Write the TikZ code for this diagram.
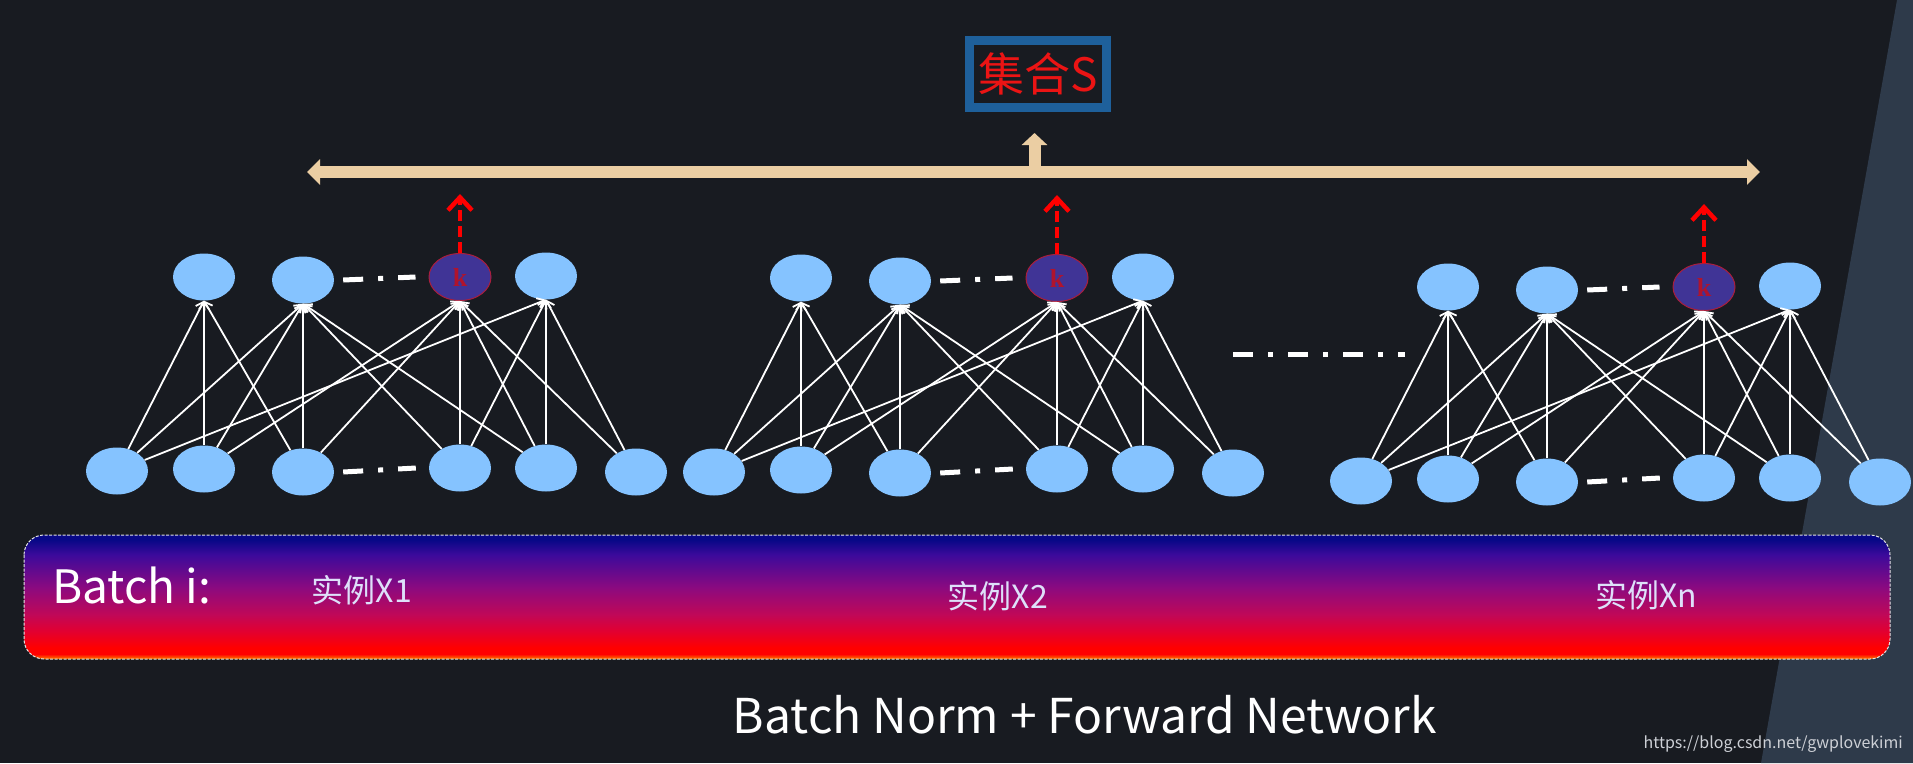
\documentclass[tikz,border=0pt]{standalone}
\usepackage{fontspec}
\setmainfont{Noto Sans CJK SC}
\newfontfamily\kfont{Liberation Serif}
\usetikzlibrary{arrows.meta,calc,positioning,shapes.geometric}

\newcommand\px[1]{\fontsize{#1pt}{#1pt}\selectfont}

\definecolor{bg}{RGB}{24,27,33}
\definecolor{panel}{RGB}{46,58,74}
\definecolor{nodeBlue}{RGB}{133,195,255}
\definecolor{kFill}{RGB}{64,52,150}
\definecolor{kLine}{RGB}{170,30,60}
\definecolor{kText}{RGB}{175,20,45}
\definecolor{setBlue}{RGB}{30,96,155}
\definecolor{setRed}{RGB}{235,20,20}
\definecolor{beige}{RGB}{235,206,163}
\definecolor{pickRed}{RGB}{255,0,0}
\definecolor{instText}{RGB}{222,224,250}
\definecolor{wmLight}{RGB}{205,208,214}
% gradient of the batch strip
\definecolor{gOrange}{RGB}{255,130,0}
\definecolor{gRed}{RGB}{255,0,0}
\definecolor{gCrimson}{RGB}{225,0,50}
\definecolor{gMagenta}{RGB}{192,8,88}
\definecolor{gPurple}{RGB}{138,10,128}
\definecolor{gViolet}{RGB}{60,10,155}
\definecolor{gNavy}{RGB}{8,8,135}
\pgfdeclareverticalshading{batchgrad}{100bp}{color(0bp)=(gOrange); color(25bp)=(gOrange);
 color(27bp)=(gRed); color(29.5bp)=(gRed); color(36.5bp)=(gCrimson); color(43bp)=(gMagenta);
 color(54bp)=(gPurple); color(67bp)=(gViolet); color(73bp)=(gNavy); color(100bp)=(gNavy)}

\begin{document}
\begin{tikzpicture}[x=1pt,y=-1pt,>=Latex,
 unit/.style={ellipse,fill=nodeBlue,minimum width=62pt,minimum height=47pt,inner sep=0pt},
 knode/.style={unit,fill=kFill,draw=kLine,line width=1pt,text=kText,font=\kfont\bfseries\px{26}},
 conn/.style={white,line width=1.8pt,-{Straight Barb[length=7pt,width=10pt]}},
 gapdash/.style={white,line width=5pt,dash pattern=on 20pt off 15pt on 5pt off 15pt},
 pick/.style={pickRed,line width=4.5pt,dash pattern=on 11pt off 5pt,-{Straight Barb[length=13pt,width=24pt]}},
 txt/.style={inner sep=0pt}]
\useasboundingbox (0,0) rectangle (1913,763);
\fill[bg] (0,0) rectangle (1913,763);
\fill[panel] (1897,0) -- (1913,0) -- (1913,763) -- (1761,763) -- cycle;

% gathered set
\node[draw=setBlue,line width=9pt,fill=bg,minimum width=137pt,minimum height=67pt,inner sep=0pt,
 text=setRed,font=\px{46}] (setS) at (1038,74) {集合S};
\coordinate (barL) at (307,172);
\coordinate (barR) at (1760,172);
\coordinate (barM) at (1034.5,172);
\draw[beige,line width=12pt,-{Triangle[length=12pt,width=25pt]}] (barM) -- ++(0,-39);
\draw[beige,line width=12pt,{Triangle[length=13pt,width=25pt]}-{Triangle[length=13pt,width=25pt]}]
 (barL) -- (barR);

% three networks
\foreach \net/\dx/\dy in {1/0/0,2/597/1,3/1244/10}{
\begin{scope}[shift={(\dx,\dy)}]
 \foreach \i/\x/\y in {1/204/277,2/303/280,4/546/276}
  \node[unit] (n\net t\i) at (\x,\y) {};
 \node[knode] (n\net tk) at (460,277) {k};
 \foreach \i/\x/\y in {1/117/471,2/204/469,3/303/472,4/460/468,5/546/468,6/636/472}
  \node[unit] (n\net b\i) at (\x,\y) {};
 \foreach \src/\dst in {b1/t1,b1/t2,b1/t4,b2/t1,b2/t2,b2/tk,b3/t1,b3/t2,b3/tk,
   b4/t2,b4/tk,b4/t4,b5/t2,b5/tk,b5/t4,b6/tk,b6/t4}
  \draw[conn] (n\net\src) -- (n\net\dst.south);
 \draw[gapdash] ([xshift=9pt]n\net t2.east) -- ([xshift=-13pt]n\net tk.west);
 \draw[gapdash] ([xshift=9pt]n\net b3.east) -- ([xshift=-13pt]n\net b4.west);
 \coordinate (n\net up) at ([yshift=59pt]n\net tk.north);
 \draw[pick] (n\net tk.north) -- (n\net up);
\end{scope}}
\draw[gapdash] (1233,354) -- (1405,354);

% batch strip
\draw[white!80!gray,line width=1pt,dash pattern=on 3pt off 1.5pt,rounded corners=20pt,
 shading=batchgrad] (24,535) rectangle (1890,659);
\node[txt,anchor=base west,text=white,font=\px{46}] (batch) at (52,603) {Batch i:};
\node[txt,text=instText,font=\px{32}] (x1) at (362,590) {实例X1};
\node[txt,text=instText,font=\px{32}] (x2) at (998,596) {实例X2};
\node[txt,text=instText,font=\px{32}] (xn) at (1646,595) {实例Xn};

\node[txt,anchor=base,text=white,font=\px{48}] (caption) at (1085,733) {Batch Norm + Forward Network};
\node[txt,anchor=base east,text=wmLight,font=\px{16}] (wm) at (1903,748) {https://blog.csdn.net/gwplovekimi};
\end{tikzpicture}
\end{document}
